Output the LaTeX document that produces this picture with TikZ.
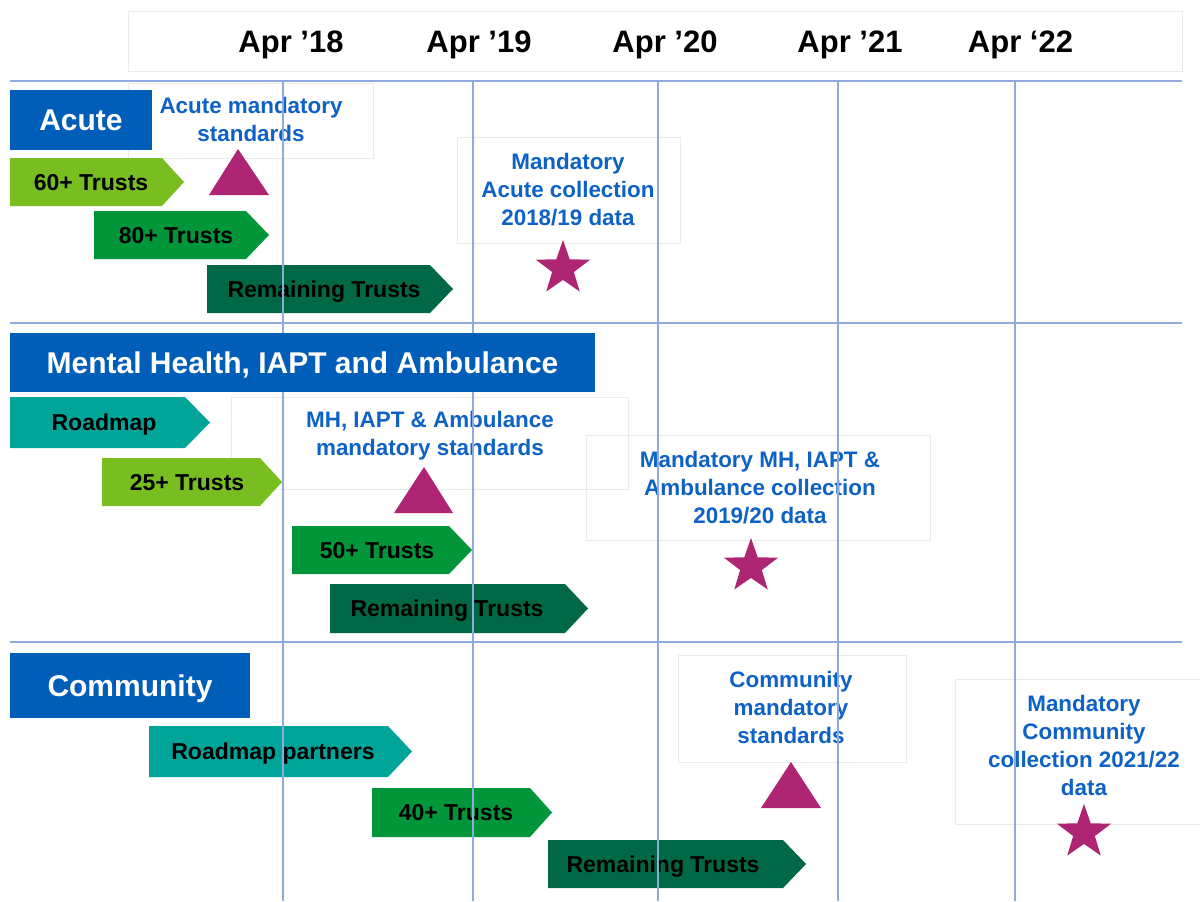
\documentclass[tikz,border=0pt]{standalone}
\usepackage{fontspec}
\setmainfont{Liberation Sans}
\usetikzlibrary{shapes.geometric}
\definecolor{nhsblue}{RGB}{0,94,184}
\definecolor{labelblue}{RGB}{14,98,198}
\definecolor{gridblue}{RGB}{143,170,222}
\definecolor{lightgreen}{RGB}{120,190,32}
\definecolor{midgreen}{RGB}{0,150,57}
\definecolor{darkgreen}{RGB}{0,103,71}
\definecolor{roadteal}{RGB}{0,164,153}
\definecolor{mspink}{RGB}{174,37,115}

\begin{document}
\begin{tikzpicture}
    \begin{scope}[x=0.5pt, y=-0.5pt,
    		faint/.style={draw=black!8, line width=0.5pt},
    		gridline/.style={gridblue, line width=0.8pt},
    		month/.style={anchor=base, inner sep=0pt, font=\bfseries\fontsize{15.5}{18}\selectfont},
    		title/.style={fill=nhsblue, text=white, inner sep=0pt, text height=10.8pt, text depth=0pt, font=\bfseries\fontsize{15}{18}\selectfont},
    		note/.style={text=labelblue, align=center, inner sep=0pt, font=\bfseries\fontsize{11.2}{14}\selectfont},
    		bartext/.style={inner sep=0pt, text height=8.2pt, text depth=0pt, font=\bfseries\fontsize{11.5}{14}\selectfont},
    		milestone/.style={fill=mspink},
    		goal/.style={star, star points=5, star point ratio=2.5, minimum size=28.5pt, inner sep=0pt, fill=mspink}]

    \fill[white] (0,0) rectangle (1200,901);
    \useasboundingbox (0,0) rectangle (1200,901);

    % faint text boxes
    \draw[faint] (128,11) rectangle (1182,71);
    \draw[faint] (128,83) rectangle (373,158);
    \draw[faint] (457,137) rectangle (680,243);
    \draw[faint] (231,397) rectangle (628,489);
    \draw[faint] (586,435) rectangle (930,540);
    \draw[faint] (678,655) rectangle (906,762);
    \draw[faint] (955,679) rectangle (1200,824);

    \node[note] (acutestd) at (251,119) {Acute mandatory\\standards};
    \node[note] (acutecoll) at (568,190) {Mandatory\\Acute collection\\2018/19 data};
    \node[note] (mhstd) at (430,436) {MH, IAPT \& Ambulance\\mandatory standards};
    \node[note] (mhcoll) at (760,488) {Mandatory MH, IAPT \&\\Ambulance collection\\2019/20 data};
    \node[note] (commstd) at (791,707) {Community\\mandatory\\standards};
    \node[note] (commcoll) at (1084,745) {Mandatory\\Community\\collection 2021/22\\data};

    % Acute bars
    \fill[lightgreen] (10,158) -- (162,158) -- (184,182) -- (162,206) -- (10,206) -- cycle;
    \node[bartext] (acute60) at (91,182) {60+ Trusts};
    \fill[midgreen] (94,211) -- (246,211) -- (269,235) -- (246,259) -- (94,259) -- cycle;
    \node[bartext] (acute80) at (176,235) {80+ Trusts};
    \fill[darkgreen] (207,265) -- (430,265) -- (453,289) -- (430,313) -- (207,313) -- cycle;
    \node[bartext] (acuterest) at (324,289) {Remaining Trusts};

    % Mental health bars
    \fill[roadteal] (10,397) -- (185,397) -- (210,422.5) -- (185,448) -- (10,448) -- cycle;
    \node[bartext] (mhroad) at (104,422.5) {Roadmap};
    \fill[lightgreen] (102,458) -- (260,458) -- (282,482) -- (260,506) -- (102,506) -- cycle;
    \node[bartext] (mh25) at (187,482) {25+ Trusts};
    \fill[midgreen] (292,526) -- (449,526) -- (472,550) -- (449,574) -- (292,574) -- cycle;
    \node[bartext] (mh50) at (377,550) {50+ Trusts};
    \fill[darkgreen] (330,584) -- (565,584) -- (588,608.5) -- (565,633) -- (330,633) -- cycle;
    \node[bartext] (mhrest) at (447,608.5) {Remaining Trusts};

    % Community bars
    \fill[roadteal] (149,726) -- (388,726) -- (412,751.5) -- (388,777) -- (149,777) -- cycle;
    \node[bartext] (commroad) at (273,751.5) {Roadmap partners};
    \fill[midgreen] (372,788) -- (530,788) -- (552,812.5) -- (530,837) -- (372,837) -- cycle;
    \node[bartext] (comm40) at (456,812.5) {40+ Trusts};
    \fill[darkgreen] (548,840) -- (783,840) -- (806,864) -- (783,888) -- (548,888) -- cycle;
    \node[bartext] (commrest) at (663,864) {Remaining Trusts};

    % grid
    \draw[gridline] (10,81) -- (1182,81);
    \draw[gridline] (10,323) -- (1182,323);
    \draw[gridline] (10,642) -- (1182,642);
    \draw[gridline] (283,81) -- (283,901);
    \draw[gridline] (473,81) -- (473,901);
    \draw[gridline] (658,81) -- (658,901);
    \draw[gridline] (838,81) -- (838,901);
    \draw[gridline] (1015,81) -- (1015,901);

    \node[title, minimum width=71pt, minimum height=30pt] (acute) at (81,120) {Acute};
    \node[title, minimum width=292.5pt, minimum height=29.5pt] (mh) at (302.5,362.5) {Mental Health, IAPT and Ambulance};
    \node[title, minimum width=120pt, minimum height=32.5pt] (comm) at (130,685.5) {Community};

    \fill[milestone] (209,195) -- (238,149) -- (269,195) -- cycle;
    \fill[milestone] (394,513) -- (424,467) -- (453,513) -- cycle;
    \fill[milestone] (761,808) -- (791,762) -- (821,808) -- cycle;

    \node[goal] (acutestar) at (563,268.5) {};
    \node[goal] (mhstar) at (751,566.5) {};
    \node[goal] (commstar) at (1084,832.5) {};

    \node[month] (apr18) at (291,52) {Apr ’18};
    \node[month] (apr19) at (479,52) {Apr ’19};
    \node[month] (apr20) at (665,52) {Apr ’20};
    \node[month] (apr21) at (850,52) {Apr ’21};
    \node[month] (apr22) at (1020.5,52) {Apr ‘22};

    \end{scope}
\end{tikzpicture}
\end{document}
